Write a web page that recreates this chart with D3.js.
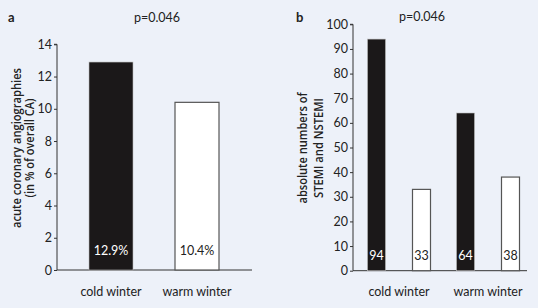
<!DOCTYPE html>
<html>
<head>
<meta charset="utf-8">
<script src="https://cdn.jsdelivr.net/npm/d3@7"></script>
<style>
  html, body { margin: 0; padding: 0; background: #edf1f9; }
  svg { display: block; font-family: Lato, "Open Sans", sans-serif; }
</style>
</head>
<body>
<div id="content"></div>
<script>
// panel a data
const catsA = ["cold winter", "warm winter"];
const valuesA = [12.9, 10.4];
const labelsA = ["12.9%", "10.4%"];
const ticksA = [0, 2, 4, 6, 8, 10, 12, 14];

// panel b data
const catsB = ["cold winter", "warm winter"];
const seriesB = ["STEMI", "NSTEMI"];
const stemiB = [94, 64];
const nstemiB = [33, 38];
const ticksB = [0, 10, 20, 30, 40, 50, 60, 70, 80, 90, 100];

const width = 538, height = 308;
const dark = "#1b1819", edge = "#555", ink = "#222";
const fontFam = "Lato, 'Open Sans', sans-serif";

const svg = d3.select("#content")
    .append("svg")
    .attr("width", width)
    .attr("height", height);

// small helper for rotated two-line axis titles
function yTitle(lines, cx, xs, lens) {
    lines.forEach((t, i) => {
        svg.append("text")
            .attr("transform", "rotate(-90)")
            .attr("x", -cx)
            .attr("y", xs[i])
            .attr("text-anchor", "middle")
            .attr("font-family", "'Open Sans', Lato, sans-serif")
            .attr("font-size", "12px")
            .attr("font-weight", 600)
            .attr("fill", ink)
            .attr("textLength", lens[i])
            .attr("lengthAdjust", "spacingAndGlyphs")
            .text(t);
    });
}

function styleAxis(g, top, bottom) {
    g.attr("font-size", "12.5px").attr("font-family", fontFam);
    g.select(".domain").attr("d", "M-3," + top + "H0V" + bottom).attr("stroke", "#333");
    g.selectAll(".tick line").attr("stroke", "#333");
    g.selectAll(".tick text").attr("fill", ink);
}

// ---------- panel a ----------
const yA = d3.scaleLinear().domain([0, 14]).range([270, 44.3]);
const xA = d3.scaleBand().domain(catsA).range([68, 240]);
const barWA = 44;

svg.append("g")
    .attr("transform", "translate(57,0)")
    .call(d3.axisLeft(yA).tickValues(ticksA).tickSize(3).tickPadding(2))
    .call(g => styleAxis(g, yA(14), yA(0)));

svg.append("line")
    .attr("x1", 57).attr("x2", 252)
    .attr("y1", yA(0)).attr("y2", yA(0))
    .attr("stroke", "#333");

svg.selectAll(".barA")
    .data(valuesA)
    .enter()
    .append("rect")
    .attr("class", "barA")
    .attr("x", (d, i) => xA(catsA[i]) + (xA.bandwidth() - barWA) / 2)
    .attr("y", d => yA(d))
    .attr("width", barWA)
    .attr("height", d => yA(0) - yA(d))
    .attr("fill", (d, i) => i === 0 ? dark : "#fff")
    .attr("stroke", (d, i) => i === 0 ? "#bbb" : edge)
    .attr("stroke-width", (d, i) => i === 0 ? 0.6 : 1.2);

svg.selectAll(".labA")
    .data(labelsA)
    .enter()
    .append("text")
    .attr("x", (d, i) => xA(catsA[i]) + xA.bandwidth() / 2)
    .attr("y", 255)
    .attr("text-anchor", "middle")
    .attr("font-size", "12.5px")
    .attr("fill", (d, i) => i === 0 ? "#fff" : ink)
    .text(d => d);

svg.selectAll(".catA")
    .data(catsA)
    .enter()
    .append("text")
    .attr("x", d => xA(d) + xA.bandwidth() / 2)
    .attr("y", 296)
    .attr("text-anchor", "middle")
    .attr("font-size", "12.5px")
    .attr("fill", ink)
    .text(d => d);

yTitle(["acute coronary angiographies", "(in % of overall CA)"], 148, [21, 34], [160, 99]);

svg.append("text").attr("x", 8).attr("y", 22)
    .attr("font-size", "13px").attr("font-weight", "bold").attr("fill", ink).text("a");
svg.append("text").attr("x", 157).attr("y", 22).attr("text-anchor", "middle")
    .attr("font-size", "12.5px").attr("fill", ink).text("p=0.046");

// ---------- panel b ----------
const yB = d3.scaleLinear().domain([0, 100]).range([270.7, 24.3]);
const xB = d3.scaleBand().domain(catsB).range([354.5, 532.5]);
const xSub = d3.scaleBand().domain(seriesB)
    .range([xB.bandwidth() / 2 - 45, xB.bandwidth() / 2 + 45]);
const barWB = 18;

svg.append("g")
    .attr("transform", "translate(353,0)")
    .call(d3.axisLeft(yB).tickValues(ticksB).tickSize(3).tickPadding(2))
    .call(g => styleAxis(g, yB(100), yB(0)));

svg.append("line")
    .attr("x1", 353).attr("x2", 527)
    .attr("y1", yB(0)).attr("y2", yB(0))
    .attr("stroke", "#333");

const rowsB = [];
catsB.forEach((c, i) => {
    rowsB.push({ cat: c, s: "STEMI", v: stemiB[i] });
    rowsB.push({ cat: c, s: "NSTEMI", v: nstemiB[i] });
});

svg.selectAll(".barB")
    .data(rowsB)
    .enter()
    .append("rect")
    .attr("class", "barB")
    .attr("x", d => xB(d.cat) + xSub(d.s) + (xSub.bandwidth() - barWB) / 2)
    .attr("y", d => yB(d.v))
    .attr("width", barWB)
    .attr("height", d => yB(0) - yB(d.v))
    .attr("fill", d => d.s === "STEMI" ? dark : "#fff")
    .attr("stroke", d => d.s === "STEMI" ? "#bbb" : edge)
    .attr("stroke-width", d => d.s === "STEMI" ? 0.6 : 1.2);

svg.selectAll(".labB")
    .data(rowsB)
    .enter()
    .append("text")
    .attr("x", d => xB(d.cat) + xSub(d.s) + xSub.bandwidth() / 2)
    .attr("y", 260)
    .attr("text-anchor", "middle")
    .attr("font-size", "12.5px")
    .attr("fill", d => d.s === "STEMI" ? "#fff" : ink)
    .text(d => d.v);

svg.selectAll(".catB")
    .data(catsB)
    .enter()
    .append("text")
    .attr("x", d => xB(d) + xB.bandwidth() / 2)
    .attr("y", 296)
    .attr("text-anchor", "middle")
    .attr("font-size", "12.5px")
    .attr("fill", ink)
    .text(d => d);

yTitle(["absolute numbers of", "STEMI and NSTEMI"], 148, [307, 323], [111, 100]);

svg.append("text").attr("x", 296).attr("y", 22)
    .attr("font-size", "13px").attr("font-weight", "bold").attr("fill", ink).text("b");
svg.append("text").attr("x", 422).attr("y", 21).attr("text-anchor", "middle")
    .attr("font-size", "12.5px").attr("fill", ink).text("p=0.046");
</script>
</body>
</html>
